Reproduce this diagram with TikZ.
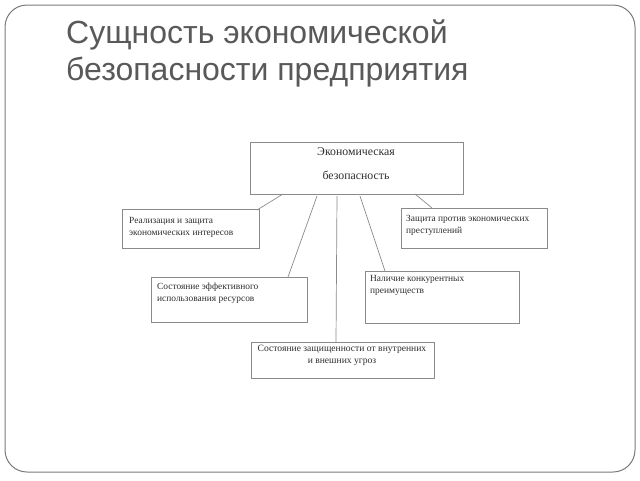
\documentclass[tikz,border=0pt]{standalone}
\usepackage{fontspec}
\setmainfont{Liberation Serif}
\newfontfamily\titlefont{Liberation Sans}
\definecolor{framegray}{HTML}{7A7A7A}
\definecolor{titlegray}{HTML}{595959}
\definecolor{boxgray}{HTML}{8A8A8A}
\definecolor{txtgray}{HTML}{2E2E2E}
\begin{document}
\begin{tikzpicture}[x=1pt,y=-1pt,
  box/.style={draw=boxgray,line width=0.8pt},
  conn/.style={draw=boxgray,line width=0.7pt},
  btext/.style={font=\fontsize{9.4}{12}\selectfont,text=txtgray,inner sep=0pt,align=left,anchor=north west}]
\useasboundingbox (0,0) rectangle (640,480);
\fill[white] (0,0) rectangle (640,480);
\draw[framegray,line width=1pt,rounded corners=22pt] (5,5) rectangle (635,472);
\node[font=\titlefont\fontsize{32}{37}\selectfont,text=titlegray,anchor=north west,align=left,inner sep=0pt] (title) at (66,20) {Сущность экономической\\безопасности предприятия};
% boxes
\draw[box] (250,142) rectangle (463,194);
\node[font=\fontsize{11.8}{24}\selectfont,text=txtgray,align=center,inner sep=0pt] (toptxt) at (356,164) {Экономическая\\безопасность};
\draw[box] (122,209) rectangle (259,248);
\node[btext] (t1) at (129,217) {Реализация и защита\\экономических интересов};
\draw[box] (401,208) rectangle (547,248);
\node[btext] (t2) at (406,215) {Защита против экономических\\преступлений};
\draw[box] (151,277) rectangle (307,322);
\node[btext] (t3) at (157,283) {Состояние эффективного\\использования ресурсов};
\draw[box] (365,271) rectangle (519,323);
\node[btext] (t4) at (370,275) {Наличие конкурентных\\преимуществ};
\draw[box] (251,342) rectangle (434,378);
\node[btext,font=\fontsize{9.6}{12}\selectfont,anchor=north,align=center] (t5) at (342,345) {Состояние защищенности от внутренних\\и внешних угроз};
% connectors
\coordinate (a1) at (283,194); \coordinate (b1) at (257,210);
\coordinate (a2) at (317,196); \coordinate (b2) at (288,277);
\coordinate (a3) at (337,196); \coordinate (b3) at (336,342);
\coordinate (a4) at (360,196); \coordinate (b4) at (385,271);
\coordinate (a5) at (415,194); \coordinate (b5) at (432,208);
\draw[conn] (a1) -- (b1);
\draw[conn] (a2) -- (b2);
\draw[conn] (a3) -- (b3);
\draw[conn] (a4) -- (b4);
\draw[conn] (a5) -- (b5);
\end{tikzpicture}
\end{document}
